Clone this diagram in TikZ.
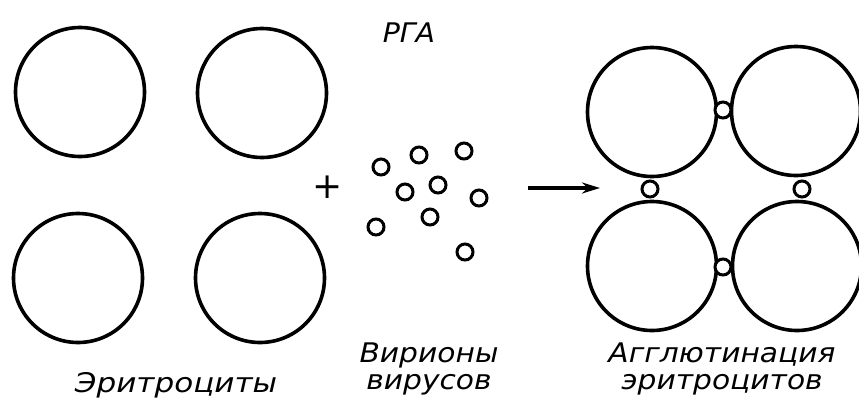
\documentclass[tikz,border=0pt]{standalone}
\usepackage{fontspec}
\setmainfont{DejaVu Sans}
\usetikzlibrary{arrows.meta}
\tikzset{
  cell/.style={circle,draw,line width=3.6pt,minimum size=129pt,inner sep=0pt},
  virion/.style={circle,draw,line width=3pt,minimum size=16pt,inner sep=0pt,fill=white},
  lbl/.style={font=\fontsize{27}{27}\selectfont\itshape,inner sep=0pt,align=center},
}
\begin{document}
\begin{tikzpicture}[x=1pt,y=-1pt]
\useasboundingbox (0,0) rectangle (859,405);
% erythrocytes
\node[cell] (e1) at (80,92) {};
\node[cell] (e2) at (262,93) {};
\node[cell] (e3) at (78,278) {};
\node[cell] (e4) at (260,278) {};
\node[lbl] (le) at (176,385) {\scalebox{1.15}[1]{Эритроциты}};
\node[font=\fontsize{36}{36}\selectfont] (plus) at (328,187) {+};
% virions
\node[virion] (v1) at (381,167) {};
\node[virion] (v2) at (419,155) {};
\node[virion] (v3) at (464,151) {};
\node[virion] (v4) at (405,192) {};
\node[virion] (v5) at (438,185) {};
\node[virion] (v6) at (479,198) {};
\node[virion] (v7) at (376,227) {};
\node[virion] (v8) at (430,217) {};
\node[virion] (v9) at (465,252) {};
\node[lbl] (rga) at (409,33) {\scalebox{1.05}[1]{РГА}};
\node[lbl] (lv) at (429,369) {\scalebox{1.1}[1]{Вирионы}\\\scalebox{1.1}[1]{вирусов}};
% arrow
\coordinate (a1) at (528,188);
\coordinate (a2) at (600,188);
\draw[line width=3.2pt,-{Stealth[length=18pt,width=11pt]}] (a1) -- (a2);
% agglutination
\node[cell] (g1) at (652,112) {};
\node[cell] (g2) at (796,111) {};
\node[cell] (g3) at (652,266) {};
\node[cell] (g4) at (797,266) {};
\node[virion] (s1) at (723,110) {};
\node[virion] (s2) at (650,189) {};
\node[virion] (s3) at (802,189) {};
\node[virion] (s4) at (723,267) {};
\node[lbl] (lg) at (722,369) {\scalebox{1.1}[1]{Агглютинация}\\\scalebox{1.1}[1]{эритроцитов}};
\end{tikzpicture}
\end{document}
